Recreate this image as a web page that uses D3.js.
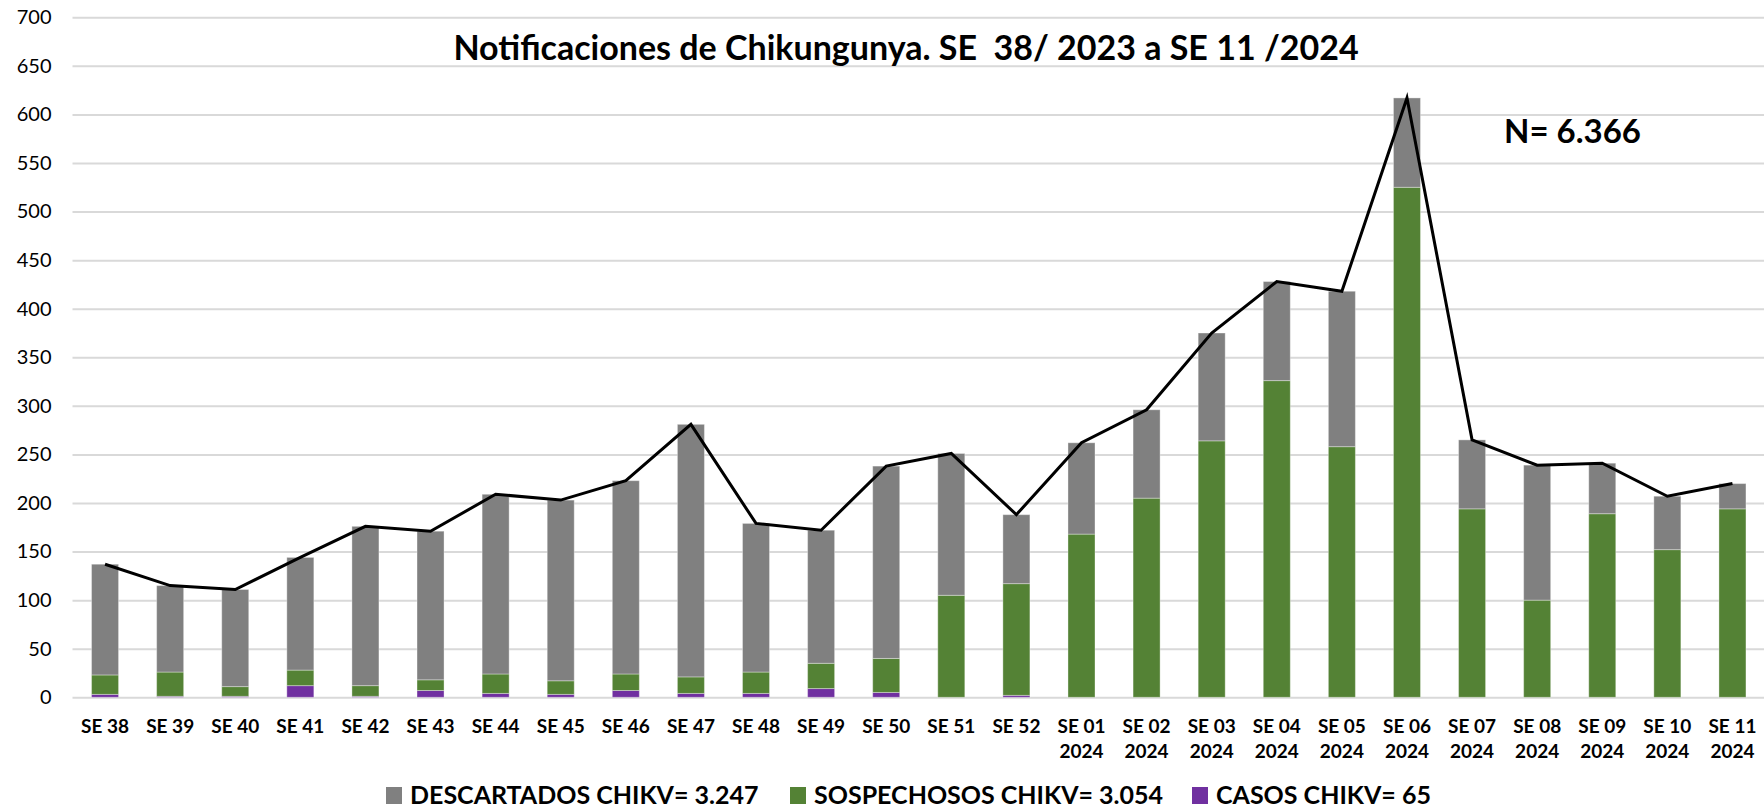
<!DOCTYPE html>
<html lang="es">
  <head>
    <meta charset="utf-8"/>
    <script src="https://d3js.org/d3.v7.min.js"></script>
    <title>Notificaciones de Chikungunya</title>
    <style>
      html, body { margin: 0; padding: 0; background: #fff; }
      svg { display: block; font-family: Lato, "Open Sans", sans-serif; }
    </style>
  </head>
  <body>
    <svg id="chart"></svg>

    <script>
      const width = 1764;
      const height = 810;

      // semanas epidemiologicas (la segunda linea va despues de \n)
      const semanas = ["SE 38", "SE 39", "SE 40", "SE 41", "SE 42", "SE 43", "SE 44", "SE 45",
                       "SE 46", "SE 47", "SE 48", "SE 49", "SE 50", "SE 51", "SE 52",
                       "SE 01\n2024", "SE 02\n2024", "SE 03\n2024", "SE 04\n2024", "SE 05\n2024",
                       "SE 06\n2024", "SE 07\n2024", "SE 08\n2024", "SE 09\n2024", "SE 10\n2024",
                       "SE 11\n2024"];

      const casos = [3, 1, 1, 12, 1, 7, 4, 3, 7, 4, 4, 9, 5, 0, 2,
                     0, 0, 0, 0, 0, 0, 0, 0, 0, 0, 0];
      const sospechosos = [20, 25, 10, 16, 11, 11, 20, 14, 17, 17, 22, 26, 35, 105, 115,
                           168, 205, 264, 326, 258, 525, 194, 100, 189, 152, 194];
      const descartados = [114, 89, 100, 116, 164, 153, 185, 186, 199, 260, 153, 137, 198, 146, 71,
                           94, 91, 111, 102, 160, 92, 71, 139, 52, 55, 26];

      const yTicks = [0, 50, 100, 150, 200, 250, 300, 350, 400, 450, 500, 550, 600, 650, 700];

      const series = [
        {key: "casos", label: "CASOS CHIKV= 65", color: "#7030a0", values: casos},
        {key: "sospechosos", label: "SOSPECHOSOS CHIKV= 3.054", color: "#548235", values: sospechosos},
        {key: "descartados", label: "DESCARTADOS CHIKV= 3.247", color: "#808080", values: descartados}
      ];
      const legendOrder = ["descartados", "sospechosos", "casos"];

      // tabla para d3.stack
      let rows = semanas.map(function(s, i) {
        let r = {semana: s};
        series.forEach(function(se) { r[se.key] = se.values[i]; });
        return r;
      });
      let totales = rows.map(function(r) { return r.casos + r.sospechosos + r.descartados; });

      const plotLeft = 72.5, plotRight = 1765;
      const plotTop = 17.3, plotBottom = 697.3;

      let xScale = d3.scaleBand()
          .domain(semanas)
          .range([plotLeft, plotRight])
          .paddingInner(0.585)
          .paddingOuter(0.2925);

      let yScale = d3.scaleLinear()
          .domain([0, 700])
          .range([plotBottom, plotTop]);

      let svg = d3.select("#chart")
          .attr("width", width)
          .attr("height", height);

      // grid + y labels
      let yAxis = d3.axisLeft(yScale)
          .tickValues(yTicks)
          .tickSize(-(width - plotLeft))
          .tickPadding(21)
          .tickFormat(d3.format("d"));
      let yAxis_g = svg.append("g")
          .attr("transform", "translate(" + plotLeft + ",0)")
          .call(yAxis);
      yAxis_g.select(".domain").remove();
      yAxis_g.selectAll(".tick line")
          .attr("stroke", "#d9d9d9")
          .attr("stroke-width", 2);
      yAxis_g.selectAll(".tick text")
          .attr("fill", "#000")
          .style("font-size", "20px")
          .style("font-family", "Lato, sans-serif");

      // title
      svg.append("text")
          .attr("x", 906)
          .attr("y", 60)
          .attr("text-anchor", "middle")
          .style("font-size", "34px")
          .style("font-weight", "bold")
          .style("white-space", "pre")
          .text("Notificaciones de Chikungunya. SE  38/ 2023 a SE 11 /2024");

      // stacked bars
      let stack = d3.stack().keys(series.map(function(s) { return s.key; }));
      let stacked = stack(rows);

      svg.append("g")
        .selectAll("g")
        .data(stacked)
        .join("g")
          .attr("fill", function(d, i) { return series[i].color; })
        .selectAll("rect")
        .data(function(d) { return d; })
        .join("rect")
          .attr("x", function(d) { return xScale(d.data.semana); })
          .attr("width", xScale.bandwidth())
          .attr("y", function(d) { return yScale(d[1]); })
          .attr("height", function(d) { return Math.max(0, yScale(d[0]) - yScale(d[1])); })
          .attr("stroke", "rgba(255,255,255,0.35)")
          .attr("stroke-width", 1);

      // line of totals
      let line = d3.line()
          .x(function(d, i) { return xScale(semanas[i]) + xScale.bandwidth() / 2; })
          .y(function(d) { return yScale(d); });

      svg.append("path")
          .datum(totales)
          .attr("fill", "none")
          .attr("stroke", "#000")
          .attr("stroke-width", 3)
          .attr("d", line);

      // x labels
      let xAxis = d3.axisBottom(xScale).tickSize(0).tickPadding(0);
      let xAxis_g = svg.append("g")
          .attr("transform", "translate(0," + plotBottom + ")")
          .call(xAxis);
      xAxis_g.select(".domain").remove();
      xAxis_g.selectAll(".tick text").each(function(d) {
        let t = d3.select(this).text("")
            .attr("y", 0)
            .attr("dy", null)
            .attr("fill", "#000")
            .style("font-size", "19px")
            .style("font-weight", "bold")
            .style("font-family", "Lato, sans-serif");
        d.split("\n").forEach(function(part, k) {
          t.append("tspan")
            .attr("x", 0)
            .attr("y", 36 + k * 25)
            .text(part);
        });
      });

      // N total
      svg.append("text")
          .attr("x", 1504)
          .attr("y", 143)
          .style("font-size", "33px")
          .style("font-weight", "bold")
          .text("N= 6.366");

      // legend
      let legendX = [386, 790, 1192];
      let legend = svg.append("g");
      legendOrder.forEach(function(key, i) {
        let s = series.find(function(se) { return se.key === key; });
        let g = legend.append("g").attr("transform", "translate(" + legendX[i] + ",0)");
        g.append("rect")
          .attr("x", 0)
          .attr("y", 787)
          .attr("width", 16)
          .attr("height", 17)
          .attr("fill", s.color);
        g.append("text")
          .attr("x", 24)
          .attr("y", 804)
          .style("font-size", "25px")
          .style("font-weight", "bold")
          .text(s.label);
      });
    </script>
  </body>
</html>
